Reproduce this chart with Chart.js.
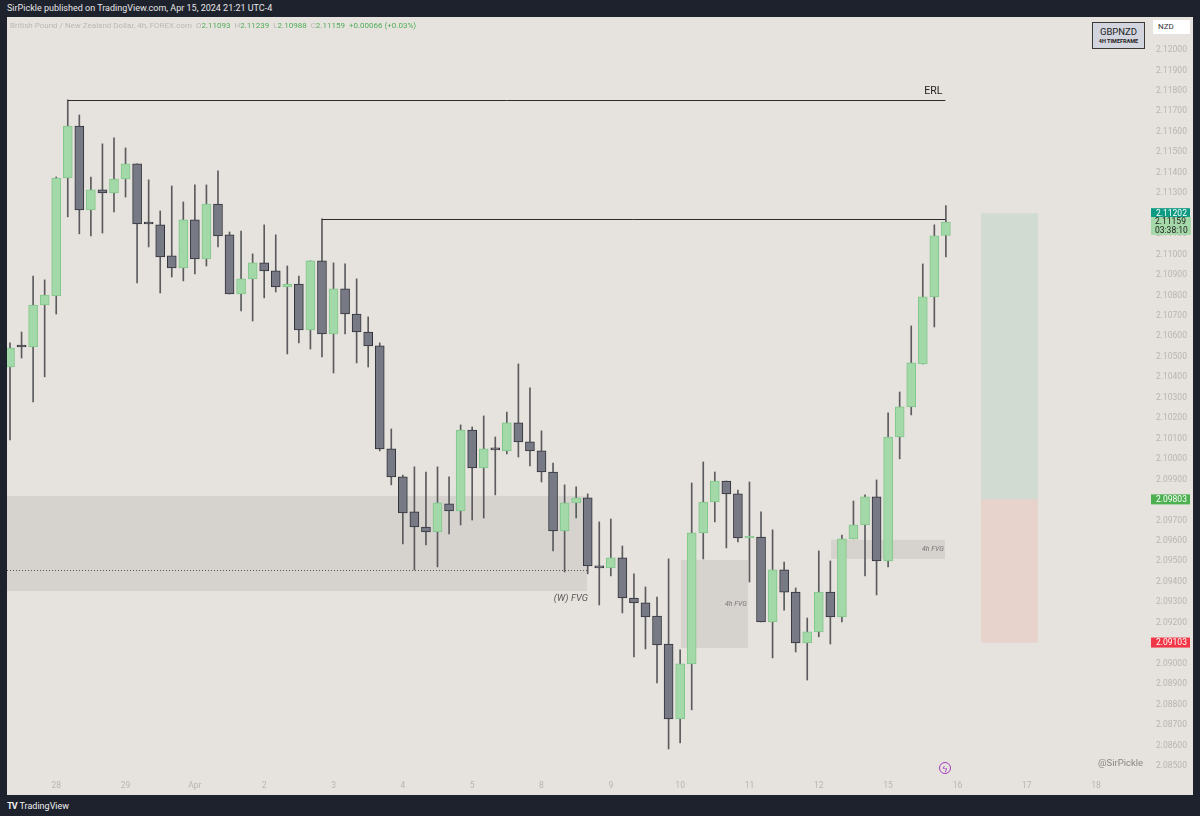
<!DOCTYPE html>
<html>
<head>
<meta charset="utf-8">
<title>GBPNZD 4h</title>
<script src="https://cdn.jsdelivr.net/npm/chart.js@4.4.1/dist/chart.umd.min.js"></script>
<style>
  html, body { margin: 0; padding: 0; }
  body {
    width: 1200px; height: 816px; overflow: hidden; position: relative;
    background: #1e222d; font-family: Roboto, "Liberation Sans", sans-serif;
  }
  #topbar { position: absolute; left: 7px; top: 3px; color: #e6e6e6; font-size: 9px; white-space: nowrap; }
  #pane { position: absolute; left: 7px; top: 17px; width: 1186px; height: 778px; background: #e6e2dd; }
  #chart { position: absolute; left: 0; top: 0; }
  #legend { position: absolute; left: 3px; top: 4px; font-size: 8px; color: #bcb8b3; white-space: nowrap; }
  #legend .g { color: #4fae5a; }
  #symbox {
    position: absolute; left: 1085px; top: 5px; width: 51px; height: 25px;
    background: #d3d5de; border: 1px solid #3a3a3a; text-align: center; color: #222;
  }
  #symbox .s { font-size: 9.5px; margin-top: 3px; line-height: 11px; }
  #symbox .t { font-size: 5.5px; font-weight: bold; line-height: 8px; }
  #nzd { position: absolute; left: 1146px; top: 3px; width: 37px; height: 14px; background: #fff;
         font-size: 8px; line-height: 14px; padding-left: 5px; box-sizing: border-box; color: #333; }
  #sig { position: absolute; left: 1091px; top: 740px; font-size: 9.5px; color: #8a8784; }
  #bolt { position: absolute; left: 932px; top: 745px; width: 12px; height: 12px; border: 1px solid #a23bb8;
          border-radius: 50%; color: #a23bb8; font-size: 9px; line-height: 12px; text-align: center; box-sizing: border-box; }
  #brand { position: absolute; left: 7px; top: 801px; color: #f0f0f0; font-size: 9px; white-space: nowrap; }
  #brand b { font-size: 9px; margin-right: 3px; letter-spacing: -1px; }
</style>
</head>
<body>
<div id="topbar">SirPickle published on TradingView.com, Apr 15, 2024 21:21 UTC-4</div>
<div id="pane">
  <canvas id="chart" width="1186" height="778"></canvas>
  <div id="legend">British Pound / New Zealand Dollar, 4h, FOREX.com&nbsp; O<span class="g">2.11093</span>&nbsp; H<span class="g">2.11239</span>&nbsp; L<span class="g">2.10988</span>&nbsp; C<span class="g">2.11159</span>&nbsp; <span class="g">+0.00066 (+0.03%)</span></div>
  <div id="symbox"><div class="s">GBPNZD</div><div class="t">4H TIMEFRAME</div></div>
  <div id="nzd">NZD</div>
  <div id="sig">@SirPickle</div>
  <div id="bolt">ϟ</div>
</div>
<div id="brand"><b>TV</b>TradingView</div>

<script>
// GBPNZD 4h candles (index 0 = left edge)
const opens = [
  2.10450, 2.10548, 2.10548, 2.10753, 2.10797, 2.11374, 2.11628, 2.11218, 2.11316, 2.11301,
  2.11369, 2.11443, 2.11149, 2.11145, 2.10993, 2.10934, 2.11169, 2.10978, 2.11247, 2.11096,
  2.10807, 2.10881, 2.10959, 2.10920, 2.10841, 2.10856, 2.10631, 2.10969, 2.10612, 2.10832,
  2.10709, 2.10621, 2.10553, 2.10050, 2.09913, 2.09742, 2.09668, 2.09644, 2.09781, 2.09747,
  2.10142, 2.09957, 2.10045, 2.10040, 2.10177, 2.10084, 2.10040, 2.09937, 2.09649, 2.09786,
  2.09810, 2.09478, 2.09468, 2.09517, 2.09321, 2.09297, 2.09233, 2.09096, 2.08730, 2.08999,
  2.09639, 2.09790, 2.09893, 2.09830, 2.09614, 2.09619, 2.09204, 2.09458, 2.09350, 2.09101,
  2.09155, 2.09350, 2.09228, 2.09610, 2.09678, 2.09815, 2.09502, 2.10108, 2.10255, 2.10465,
  2.10793, 2.11093
];
const highs = [
  2.10568, 2.10621, 2.10895, 2.10876, 2.11379, 2.11756, 2.11682, 2.11379, 2.11541, 2.11570,
  2.11521, 2.11443, 2.11365, 2.11213, 2.11335, 2.11257, 2.11340, 2.11340, 2.11409, 2.11110,
  2.11115, 2.11003, 2.11145, 2.11096, 2.10944, 2.10895, 2.10969, 2.11174, 2.10959, 2.10954,
  2.10881, 2.10695, 2.10568, 2.10147, 2.09922, 2.09962, 2.09937, 2.09962, 2.09913, 2.10167,
  2.10157, 2.10211, 2.10108, 2.10230, 2.10465, 2.10348, 2.10138, 2.09981, 2.09874, 2.09864,
  2.09830, 2.09693, 2.09707, 2.09575, 2.09439, 2.09375, 2.09326, 2.09512, 2.09067, 2.09883,
  2.09986, 2.09937, 2.09893, 2.09849, 2.09888, 2.09742, 2.09654, 2.09497, 2.09370, 2.09223,
  2.09551, 2.09502, 2.09629, 2.09795, 2.09825, 2.09898, 2.10226, 2.10328, 2.10651, 2.10954,
  2.11145, 2.11239
];
const lows = [
  2.10094, 2.10494, 2.10279, 2.10402, 2.10709, 2.11184, 2.11101, 2.11091, 2.11105, 2.11208,
  2.11281, 2.10861, 2.11037, 2.10812, 2.10890, 2.10871, 2.10905, 2.10944, 2.11037, 2.10807,
  2.10724, 2.10675, 2.10788, 2.10817, 2.10514, 2.10568, 2.10538, 2.10499, 2.10421, 2.10612,
  2.10470, 2.10450, 2.10040, 2.09874, 2.09585, 2.09458, 2.09580, 2.09473, 2.09634, 2.09678,
  2.09702, 2.09712, 2.09825, 2.10025, 2.10010, 2.09966, 2.09888, 2.09551, 2.09448, 2.09712,
  2.09439, 2.09287, 2.09429, 2.09248, 2.09033, 2.09072, 2.08906, 2.08583, 2.08612, 2.08774,
  2.09512, 2.09693, 2.09566, 2.09595, 2.09399, 2.09204, 2.09028, 2.09262, 2.09057, 2.08920,
  2.09131, 2.09096, 2.09204, 2.09610, 2.09429, 2.09336, 2.09473, 2.10001, 2.10216, 2.10465,
  2.10646, 2.10988
];
const closes = [
  2.10543, 2.10548, 2.10753, 2.10802, 2.11374, 2.11628, 2.11218, 2.11316, 2.11301, 2.11369,
  2.11443, 2.11149, 2.11149, 2.10988, 2.10934, 2.11169, 2.10978, 2.11247, 2.11091, 2.10807,
  2.10881, 2.10959, 2.10920, 2.10841, 2.10856, 2.10631, 2.10969, 2.10612, 2.10832, 2.10709,
  2.10621, 2.10553, 2.10050, 2.09913, 2.09737, 2.09668, 2.09644, 2.09786, 2.09747, 2.10142,
  2.09957, 2.10050, 2.10045, 2.10177, 2.10084, 2.10040, 2.09937, 2.09649, 2.09786, 2.09810,
  2.09478, 2.09468, 2.09517, 2.09321, 2.09297, 2.09228, 2.09091, 2.08730, 2.08999, 2.09639,
  2.09790, 2.09893, 2.09830, 2.09614, 2.09619, 2.09204, 2.09458, 2.09350, 2.09101, 2.09155,
  2.09350, 2.09228, 2.09610, 2.09678, 2.09815, 2.09502, 2.10108, 2.10255, 2.10470, 2.10793,
  2.11091, 2.11159
];

// time axis: candle index where each day label sits
const dayIdx = [4, 10, 16, 22, 28, 34, 40, 46, 52, 58, 64, 70, 76, 82, 88, 94];
const dayLabels = ['28', '29', 'Apr', '2', '3', '4', '5', '8', '9', '10', '11', '12', '15', '16', '17', '18'];

// price axis
const priceTicks = [
  2.085, 2.086, 2.087, 2.088, 2.089, 2.090, 2.091, 2.092, 2.093, 2.094, 2.095, 2.096,
  2.097, 2.098, 2.099, 2.100, 2.101, 2.102, 2.103, 2.104, 2.105, 2.106, 2.107, 2.108,
  2.109, 2.110, 2.111, 2.112, 2.113, 2.114, 2.115, 2.116, 2.117, 2.118, 2.119, 2.120
];

// levels drawn on the chart
const erlStart = 5, erlLevel = 2.11756;
const swingStart = 27, swingLevel = 2.11174;
const levelEnd = 80.95;

// fair value gaps: weekly, 4h, 4h
const fvgFrom = [-0.26, 58.07, 71.06];
const fvgTo = [49.94, 63.87, 80.92];
const fvgTop = [2.09820, 2.09507, 2.09605];
const fvgBottom = [2.09355, 2.09077, 2.09512];
const fvgLabels = ['(W) FVG', '4h FVG', '4h FVG'];
const weeklyMid = 2.09458;

// long position box
const posFrom = 84.04, posTo = 88.97;
const posTarget = 2.11202, posEntry = 2.09803, posStop = 2.09103;
const countdown = '03:38:10';

const X_MIN = -0.26, X_MAX = 97.8;
const Y_MIN = 2.08441, Y_MAX = 2.12161;

const UP_FILL = '#a3d8a8', UP_LINE = '#80c78a';
const DN_FILL = '#777985', DN_LINE = '#30323a';
const WICK = '#5b5b5e';
const AXIS_TXT = '#b9b5b0';
const FONT = 'Roboto, "Liberation Sans", sans-serif';

const isUp = closes.map((c, i) => c > opens[i]);

function tag(ctx, x, yPix, w, h, bg, fg, text) {
  ctx.fillStyle = bg;
  ctx.fillRect(x, yPix - h / 2, w, h);
  ctx.fillStyle = fg;
  ctx.textAlign = 'left';
  ctx.textBaseline = 'middle';
  ctx.fillText(text, x + 5, yPix + 0.5);
}

const overlays = {
  id: 'overlays',
  beforeDatasetsDraw(chart) {
    const { ctx, scales: { x, y } } = chart;
    ctx.save();
    // gap zones
    ctx.fillStyle = 'rgba(160,160,160,0.22)';
    fvgFrom.forEach((f, i) => {
      const x0 = x.getPixelForValue(f), x1 = x.getPixelForValue(fvgTo[i]);
      const y0 = y.getPixelForValue(fvgTop[i]), y1 = y.getPixelForValue(fvgBottom[i]);
      ctx.fillRect(x0, y0, x1 - x0, y1 - y0);
    });
    // dotted midline of the weekly gap
    ctx.strokeStyle = '#555';
    ctx.lineWidth = 1;
    ctx.setLineDash([1, 2]);
    const ym = Math.round(y.getPixelForValue(weeklyMid)) + 0.5;
    ctx.beginPath();
    ctx.moveTo(x.getPixelForValue(fvgFrom[0]), ym);
    ctx.lineTo(x.getPixelForValue(fvgTo[0]), ym);
    ctx.stroke();
    ctx.setLineDash([]);
    // position box
    const px0 = x.getPixelForValue(posFrom), px1 = x.getPixelForValue(posTo);
    const yT = y.getPixelForValue(posTarget), yE = y.getPixelForValue(posEntry), yS = y.getPixelForValue(posStop);
    ctx.fillStyle = 'rgba(120,190,160,0.18)';
    ctx.fillRect(px0, yT, px1 - px0, yE - yT);
    ctx.fillStyle = 'rgba(240,150,140,0.20)';
    ctx.fillRect(px0, yE, px1 - px0, yS - yE);
    ctx.restore();
  },
  afterDatasetsDraw(chart) {
    const { ctx, scales: { x, y } } = chart;
    ctx.save();
    ctx.strokeStyle = '#2c2c2c';
    ctx.lineWidth = 1;
    const yErl = Math.round(y.getPixelForValue(erlLevel)) + 0.5;
    const ySw = Math.round(y.getPixelForValue(swingLevel)) + 0.5;
    ctx.beginPath();
    ctx.moveTo(x.getPixelForValue(erlStart), yErl);
    ctx.lineTo(x.getPixelForValue(levelEnd), yErl);
    ctx.moveTo(x.getPixelForValue(swingStart), ySw);
    ctx.lineTo(x.getPixelForValue(levelEnd), ySw);
    ctx.stroke();

    ctx.fillStyle = '#222';
    ctx.font = '10.5px ' + FONT;
    ctx.textAlign = 'right';
    ctx.textBaseline = 'middle';
    ctx.fillText('ERL', x.getPixelForValue(levelEnd) - 3, yErl - 9);

    // gap labels
    ctx.fillStyle = '#5a5a5a';
    ctx.font = 'italic 9.5px ' + FONT;
    ctx.textAlign = 'center';
    ctx.fillText(fvgLabels[0], x.getPixelForValue(48.55), y.getPixelForValue(fvgBottom[0]) + 8);
    ctx.fillStyle = '#777';
    ctx.font = 'italic 7px ' + FONT;
    ctx.textAlign = 'right';
    for (let i = 1; i < fvgLabels.length; i++) {
      const yc = (y.getPixelForValue(fvgTop[i]) + y.getPixelForValue(fvgBottom[i])) / 2;
      ctx.fillText(fvgLabels[i], x.getPixelForValue(fvgTo[i]) - 1, yc);
    }
    ctx.restore();
  },
  afterDraw(chart) {
    const { ctx, chartArea, scales: { y } } = chart;
    const tx = chartArea.right + 11;
    ctx.save();
    ctx.font = '8.5px ' + FONT;
    tag(ctx, tx, y.getPixelForValue(posTarget), 39, 10, '#0b9a82', '#fff', posTarget.toFixed(5));
    // last price with bar countdown
    const last = closes[closes.length - 1];
    const yl = y.getPixelForValue(last);
    ctx.fillStyle = '#a6d9aa';
    ctx.fillRect(tx, yl - 5, 40, 18);
    ctx.fillStyle = '#1d1d1d';
    ctx.textBaseline = 'middle';
    ctx.fillText(last.toFixed(5), tx + 4, yl);
    ctx.fillText(countdown, tx + 4, yl + 9);
    tag(ctx, tx, y.getPixelForValue(posEntry), 39, 10, '#4caf50', '#fff', posEntry.toFixed(5));
    tag(ctx, tx, y.getPixelForValue(posStop), 39, 10, '#f23645', '#fff', posStop.toFixed(5));
    ctx.restore();
  }
};

new Chart(document.getElementById('chart'), {
  type: 'bar',
  data: {
    datasets: [
      {
        label: 'body',
        data: opens.map((o, i) => ({ x: i, y: [o, closes[i]] })),
        backgroundColor: isUp.map(u => u ? UP_FILL : DN_FILL),
        borderColor: isUp.map(u => u ? UP_LINE : DN_LINE),
        borderWidth: 1,
        borderSkipped: false,
        barThickness: 9,
        minBarLength: 2,
        grouped: false,
        order: 1
      },
      {
        label: 'wick',
        data: lows.map((l, i) => ({ x: i, y: [l, highs[i]] })),
        backgroundColor: WICK,
        barThickness: 1,
        grouped: false,
        order: 2
      }
    ]
  },
  options: {
    responsive: false,
    animation: false,
    devicePixelRatio: 1,
    layout: { padding: 0 },
    plugins: { legend: { display: false }, tooltip: { enabled: false } },
    scales: {
      x: {
        type: 'linear',
        min: X_MIN,
        max: X_MAX,
        offset: false,
        grid: { display: false, drawTicks: false },
        border: { display: false },
        afterBuildTicks: s => { s.ticks = dayIdx.map(v => ({ value: v })); },
        afterFit: s => { s.height = 17; s.paddingLeft = 0; s.paddingRight = 0; },
        ticks: {
          autoSkip: false, maxRotation: 0, padding: 3, color: AXIS_TXT,
          font: { size: 8.5, family: FONT },
          callback: (v, i) => dayLabels[i]
        }
      },
      y: {
        position: 'right',
        min: Y_MIN,
        max: Y_MAX,
        grid: { display: false, drawTicks: false },
        border: { display: false },
        afterBuildTicks: s => { s.ticks = priceTicks.map(v => ({ value: v })); },
        afterFit: s => { s.width = 53; s.paddingTop = 0; s.paddingBottom = 0; },
        ticks: {
          padding: 16, color: AXIS_TXT,
          font: { size: 8.5, family: FONT },
          callback: v => v.toFixed(5)
        }
      }
    }
  },
  plugins: [overlays]
});
</script>
</body>
</html>
